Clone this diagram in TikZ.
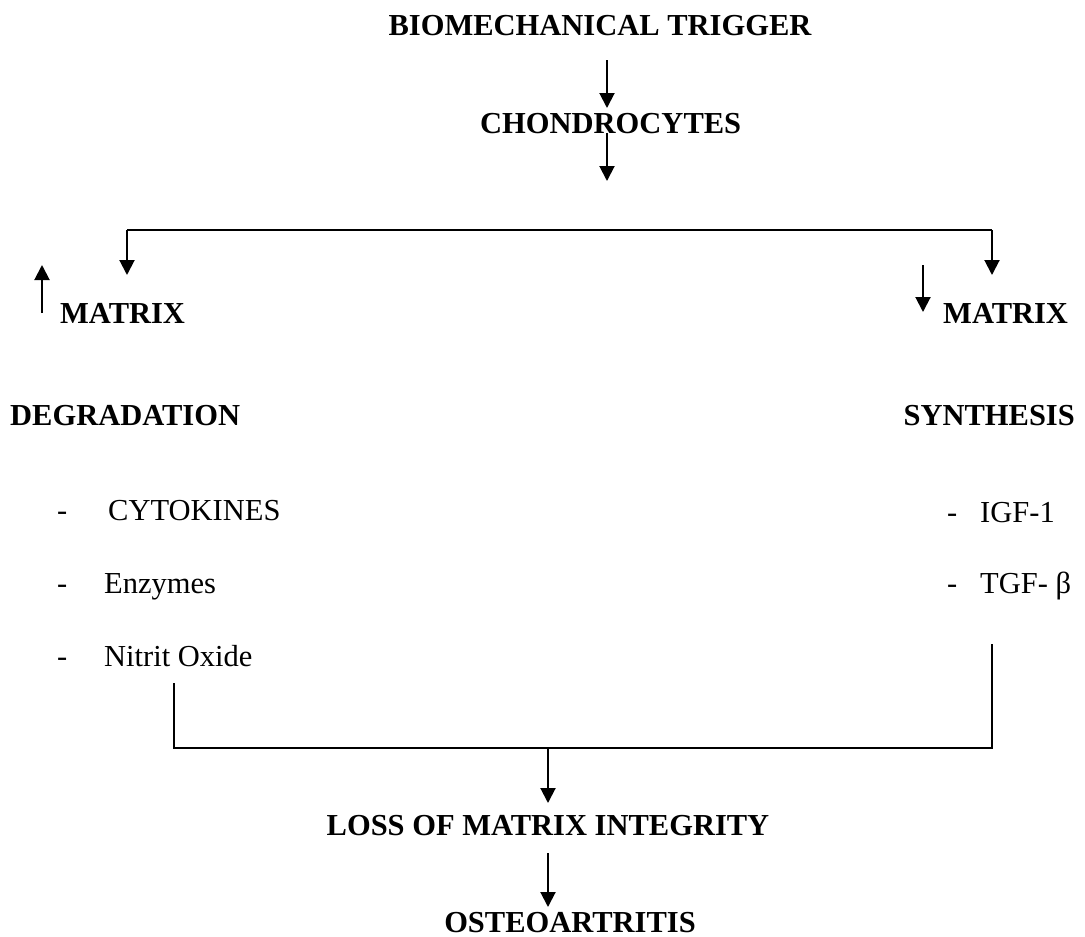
\documentclass[tikz,border=0pt]{standalone}
\usepackage{fontspec}
\setmainfont{Liberation Serif}
\usetikzlibrary{arrows.meta}
\begin{document}
\begin{tikzpicture}[x=1pt,y=-1pt,
  title/.style={font=\fontsize{30.5}{36}\selectfont\bfseries, inner sep=0pt},
  item/.style={font=\fontsize{30.5}{36}\selectfont, inner sep=0pt},
  arr/.style={line width=2pt, -{Triangle[length=15pt,width=15pt]}},
  ln/.style={line width=2pt}]
\useasboundingbox (0,0) rectangle (1085,937);
% titles
\node[title, anchor=base] (bio) at (600,35) {BIOMECHANICAL TRIGGER};
\node[title, anchor=base west] (cho) at (480,133) {CHONDROCYTES};
\node[title, anchor=base west] (matl) at (60,323) {MATRIX};
\node[title, anchor=base west] (matr) at (943,323) {MATRIX};
\node[title, anchor=base west] (deg) at (10,425) {DEGRADATION};
\node[title, anchor=base east] (syn) at (1075,425) {SYNTHESIS};
\node[title, anchor=base] (loss) at (548,835) {LOSS OF MATRIX INTEGRITY};
\node[title, anchor=base] (osteo) at (570,932) {OSTEOARTRITIS};
% items left
\node[item, anchor=base west] (d1) at (57,520) {-};
\node[item, anchor=base west] (cyt) at (108,520) {CYTOKINES};
\node[item, anchor=base west] (d2) at (57,593) {-};
\node[item, anchor=base west] (enz) at (104,593) {Enzymes};
\node[item, anchor=base west] (d3) at (57,666) {-};
\node[item, anchor=base west] (nit) at (104,666) {Nitrit Oxide};
% items right
\node[item, anchor=base west] (d4) at (947,522) {-};
\node[item, anchor=base west] (igf) at (980,522) {IGF-1};
\node[item, anchor=base west] (d5) at (947,593) {-};
\node[item, anchor=base west] (tgf) at (980,593) {TGF- β};
% coordinates
\coordinate (a1s) at (607,60);
\coordinate (a1e) at (607,108);
\coordinate (a2s) at (607,133);
\coordinate (a2e) at (607,181);
\coordinate (hl) at (127,230);
\coordinate (hr) at (992,230);
\coordinate (hlE) at (127,275);
\coordinate (hrE) at (992,275);
\coordinate (upS) at (42,313);
\coordinate (upE) at (42,265);
\coordinate (dnS) at (923,265);
\coordinate (dnE) at (923,312);
\coordinate (vlT) at (174,683);
\coordinate (vlB) at (174,748);
\coordinate (vrT) at (992,644);
\coordinate (vrB) at (992,748);
\coordinate (mid) at (548,748);
\coordinate (midE) at (548,803);
\coordinate (a4s) at (548,853);
\coordinate (a4e) at (548,907);
% connectors
\draw[arr] (a1s) -- (a1e);
\draw[arr] (a2s) -- (a2e);
\draw[ln] (hl) -- (hr);
\draw[arr] (hl) -- (hlE);
\draw[arr] (hr) -- (hrE);
\draw[arr] (upS) -- (upE);
\draw[arr] (dnS) -- (dnE);
\draw[ln] (vlT) -- (vlB) -- (vrB) -- (vrT);
\draw[arr] (mid) -- (midE);
\draw[arr] (a4s) -- (a4e);
\end{tikzpicture}
\end{document}
